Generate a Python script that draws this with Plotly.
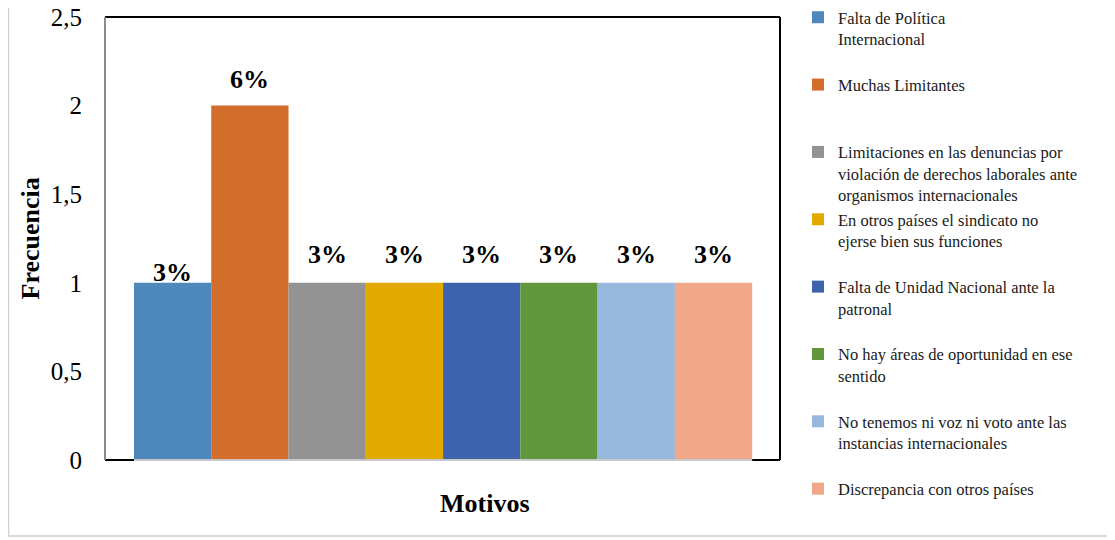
import plotly.graph_objects as go

categories = [
    "Falta de Política<br>Internacional",
    "Muchas Limitantes",
    "Limitaciones en las denuncias por<br>violación de derechos laborales ante<br>organismos internacionales",
    "En otros países el sindicato no<br>ejerse bien sus funciones",
    "Falta de Unidad Nacional ante la<br>patronal",
    "No hay áreas de oportunidad en ese<br>sentido",
    "No tenemos ni voz ni voto ante las<br>instancias internacionales",
    "Discrepancia con otros países",
]
values = [1, 2, 1, 1, 1, 1, 1, 1]
labels = ["3%", "6%", "3%", "3%", "3%", "3%", "3%", "3%"]
colors = ["#4F88BB", "#D36D2B", "#939393", "#E2AA00",
          "#3C63AB", "#62973D", "#98B8DE", "#F0A78A"]
label_shift = [10, 26, 28, 28, 28, 28, 28, 28]

FONT = "Liberation Serif, Times New Roman, serif"

def pad3(s, last):
    if last:
        return s
    n = s.count("<br>") + 1
    return s + "<br> " * (3 - n)

# page body has an 8px offset; figure coordinates = screen - 8
OFF = 8
W, H = 1115 - OFF, 540 - OFF
L, T = 105 - OFF, 17 - OFF
R = W - (780 - OFF)
B = H - (460 - OFF)
pw, ph = W - L - R, H - T - B

def px(xs):
    return (xs - OFF - L) / pw

def py(ys):
    return (H - B - (ys - OFF)) / ph

fig = go.Figure()
n = len(categories)
for i, (c, v, col) in enumerate(zip(categories, values, colors)):
    fig.add_trace(go.Bar(
        x=[i], y=[v], width=1, name=pad3(c, i == n - 1), marker_color=col,
        marker_line_width=0, legendgroup=f"g{i}", hoverinfo="skip",
    ))
    fig.add_annotation(x=i, y=v, text=f"<b>{labels[i]}</b>", showarrow=False,
                       xanchor="center", yanchor="middle", yshift=label_shift[i],
                       font=dict(family=FONT, size=26, color="black"))

fig.add_annotation(x=px(30), y=0.5, xref="paper", yref="paper", text="<b>Frecuencia</b>",
                   textangle=-90, showarrow=False, xanchor="center", yanchor="middle",
                   font=dict(family=FONT, size=26, color="black"))
fig.add_annotation(x=px(485), y=py(503), xref="paper", yref="paper", text="<b>Motivos</b>",
                   showarrow=False, xanchor="center", yanchor="middle",
                   font=dict(family=FONT, size=26, color="black"))

shapes = [
    dict(type="rect", xref="paper", yref="paper", x0=px(8.5), x1=px(1108), y0=py(536), y1=py(-2),
         line=dict(color="#D0D0D0", width=1.5), layer="below"),
    dict(type="line", xref="paper", yref="paper", x0=0, x1=1, y0=1, y1=1, line=dict(color="black", width=2)),
    dict(type="line", xref="paper", yref="paper", x0=1, x1=1, y0=0, y1=1, line=dict(color="black", width=2)),
    dict(type="line", xref="paper", yref="paper", x0=0, x1=1, y0=0, y1=0, line=dict(color="black", width=2)),
    dict(type="line", xref="paper", yref="paper", x0=0, x1=0, y0=0, y1=1, line=dict(color="#8C8C8C", width=2)),
    dict(type="line", xref="x", yref="paper", x0=-0.5, x1=7.5, y0=0, y1=0, line=dict(color="#C8C8C8", width=2)),
]

fig.update_layout(
    width=W, height=H,
    margin=dict(l=L, r=R, t=T, b=B, autoexpand=False),
    paper_bgcolor="white", plot_bgcolor="white",
    separators=", ",
    barmode="overlay",
    showlegend=True,
    legend=dict(x=px(798), xanchor="left", y=py(0), yanchor="top",
                maxheight=540,
                font=dict(family=FONT, size=16.5, color="#1a1a1a"),
                traceorder="grouped", tracegroupgap=0, itemwidth=30, valign="top",
                bgcolor="rgba(0,0,0,0)"),
    xaxis=dict(range=[-0.875, 7.86], showticklabels=False, showgrid=False,
               zeroline=False, showline=False, ticks=""),
    yaxis=dict(range=[0, 2.5], tickvals=[0, 0.5, 1, 1.5, 2, 2.5], showgrid=False,
               zeroline=False, showline=False, ticks="", ticklabelstandoff=22,
               ticklabeloverflow="allow",
               tickfont=dict(family=FONT, size=25, color="black")),
    shapes=shapes,
)

fig.write_html("out.html")
